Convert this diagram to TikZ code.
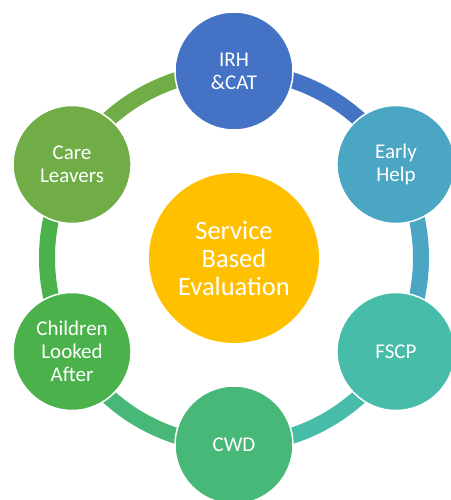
\documentclass[tikz,border=0pt]{standalone}
\usepackage{fontspec}
\setmainfont{Carlito}
\usepackage{tikz}
\usetikzlibrary{backgrounds}
\definecolor{irhblue}{HTML}{4472C4}
\definecolor{earlyteal}{HTML}{4AA6C3}
\definecolor{fscpteal}{HTML}{47BDA9}
\definecolor{cwdgreen}{HTML}{48B878}
\definecolor{clagreen}{HTML}{4BB24B}
\definecolor{caregreen}{HTML}{70AD47}
\definecolor{sbeyellow}{HTML}{FFC000}

\begin{document}
\begin{tikzpicture}[
        x=1pt, y=1pt,
        bubble/.style={circle, minimum size=118pt, inner sep=0pt, draw=white, line width=1.5pt, text=white, align=center, font=\fontsize{21}{23}\selectfont},
        hub/.style={circle, minimum size=170pt, inner sep=0pt, fill=sbeyellow, text=white, align=center, font=\fontsize{26.5}{28}\selectfont},
        ring/.style={line width=16pt}
    ]
        \useasboundingbox (-234,-242) rectangle (216,258);
        \node[hub] (sbe) at (0,0) {Service\\Based\\Evaluation};
        \node[bubble, fill=irhblue] (irh) at (90:187) {IRH\\\&CAT};
        \node[bubble, fill=earlyteal] (early) at (30:187) {Early\\Help};
        \node[bubble, fill=fscpteal] (fscp) at (-30:187) {FSCP};
        \node[bubble, fill=cwdgreen] (cwd) at (-90:187) {CWD};
        \node[bubble, fill=clagreen] (cla) at (-150:187) {Children\\Looked\\After};
        \node[bubble, fill=caregreen] (care) at (150:187) {Care\\Leavers};
        % ring pieces run from one bubble to the next, behind them
        \begin{scope}[on background layer]
            \draw[ring, irhblue] (irh.center) arc[start angle=90, end angle=30, radius=187];
            \draw[ring, earlyteal] (early.center) arc[start angle=30, end angle=-30, radius=187];
            \draw[ring, fscpteal] (fscp.center) arc[start angle=-30, end angle=-90, radius=187];
            \draw[ring, cwdgreen] (cwd.center) arc[start angle=-90, end angle=-150, radius=187];
            \draw[ring, clagreen] (cla.center) arc[start angle=210, end angle=150, radius=187];
            \draw[ring, caregreen] (care.center) arc[start angle=150, end angle=90, radius=187];
        \end{scope}
    \end{tikzpicture}
\end{document}
